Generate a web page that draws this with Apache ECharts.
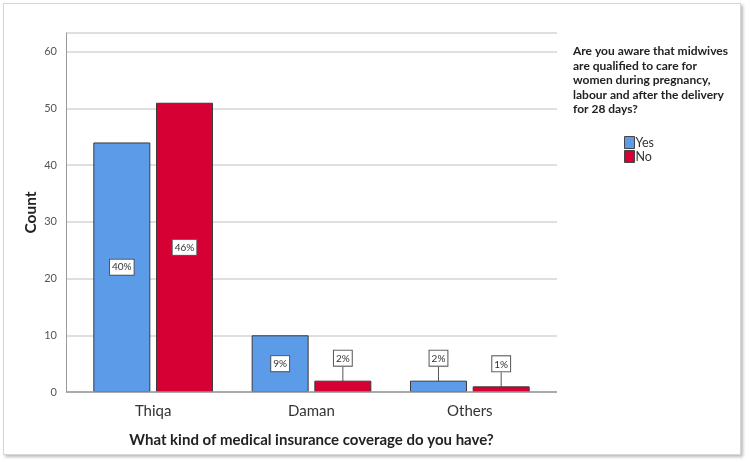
<!DOCTYPE html>
<html>
<head>
<meta charset="utf-8">
<script src="https://cdn.jsdelivr.net/npm/echarts@6/dist/echarts.min.js"></script>
<style>
  html, body { margin: 0; padding: 0; background: #fff; }
  #frame {
    position: absolute; left: 3px; top: 3px; width: 736px; height: 450px;
    border: 1px solid #d6d6d6; box-shadow: 2px 2px 3px #bbb; background: #fff;
  }
  #chart { position: absolute; left: 0; top: 0; width: 750px; height: 462px; }
</style>
</head>
<body>
<div id="frame"></div>
<div id="chart"></div>
<script>
// insurance categories and counts per answer
const categories = ['Thiqa', 'Daman', 'Others']
const yesCounts = [44, 10, 2]
const noCounts = [51, 2, 1]
const yesPercent = ['40%', '9%', '2%']
const noPercent = ['46%', '2%', '1%']
const yTicks = [0, 10, 20, 30, 40, 50, 60]

const legendTitle = 'Are you aware that midwives\nare qualified to care for\nwomen during pregnancy,\nlabour and after the delivery\nfor 28 days?'
const font = 'Lato, "Open Sans", sans-serif'

const chart = echarts.init(document.getElementById('chart'))

const boxLabel = {
  show: true,
  fontFamily: font,
  fontSize: 10,
  color: '#333',
  backgroundColor: '#fff',
  borderColor: '#555',
  borderWidth: 1,
  padding: [3, 2, 2, 2]
}

// small bars get their label lifted above with a leader line
function makeData(values, pcts) {
  return values.map((v, i) => {
    const small = v < 5
    return {
      value: v,
      label: Object.assign({}, boxLabel, {
        formatter: pcts[i],
        position: small ? 'top' : 'inside',
        distance: 0
      }),
      labelLine: { show: small, lineStyle: { color: '#555', width: 1 } }
    }
  })
}

function lift(values) {
  return function (params) {
    return values[params.dataIndex] < 5 ? { dy: -15 } : {}
  }
}

chart.setOption({
  animation: false,
  title: {
    text: legendTitle,
    left: 568,
    top: 39,
    textStyle: {
      fontFamily: font, fontSize: 12, fontWeight: 'bold', color: '#222', lineHeight: 14.5
    }
  },
  legend: {
    orient: 'vertical',
    left: 619,
    top: 131,
    itemWidth: 10,
    itemHeight: 12,
    itemGap: 1,
    icon: 'rect',
    data: ['Yes', 'No'],
    textStyle: { fontFamily: font, fontSize: 12.5, color: '#333', padding: [0, 0, 0, -4] },
    itemStyle: { borderColor: '#444', borderWidth: 1 }
  },
  grid: [
    { left: 74, width: 475, top: 33, bottom: 70 },
    { left: 66, width: 491, top: 33, bottom: 70 }
  ],
  xAxis: [
    {
      type: 'category',
      gridIndex: 0,
      data: categories,
      axisLine: { show: false },
      axisTick: { show: false },
      axisLabel: { fontFamily: font, fontSize: 15, color: '#333', margin: 12 },
      name: 'What kind of medical insurance coverage do you have?',
      nameLocation: 'middle',
      nameGap: 41,
      nameTextStyle: { fontFamily: font, fontSize: 15, fontWeight: 'bold', color: '#222' }
    },
    {
      type: 'value',
      gridIndex: 1,
      show: true,
      axisLine: { show: false },
      axisTick: { show: false },
      axisLabel: { show: false },
      splitLine: { show: false }
    }
  ],
  yAxis: [
    {
      type: 'value',
      gridIndex: 0,
      min: 0,
      max: 63.3,
      show: false
    },
    {
      type: 'value',
      gridIndex: 1,
      min: 0,
      max: 63.3,
      interval: 10,
      axisLine: { show: true, lineStyle: { color: '#999', width: 1 } },
      axisTick: { show: false },
      axisLabel: {
        fontFamily: font, fontSize: 11, color: '#555', margin: 9,
        showMaxLabel: false,
        formatter: v => (yTicks.indexOf(v) >= 0 ? String(v) : '')
      },
      splitLine: { show: true, lineStyle: { color: '#d4d4d4', width: 1.5 } },
      name: 'Count',
      nameLocation: 'middle',
      nameGap: 27,
      nameMoveOverlap: false,
      nameRotate: 90,
      nameTextStyle: { fontFamily: font, fontSize: 15.5, fontWeight: 'bold', color: '#222' }
    }
  ],
  series: [
    {
      name: 'Yes',
      type: 'bar',
      xAxisIndex: 0,
      yAxisIndex: 0,
      barWidth: 57,
      barGap: '10%',
      itemStyle: { color: '#5b9be8', borderColor: '#3a3a3a', borderWidth: 1 },
      labelLayout: lift(yesCounts),
      data: makeData(yesCounts, yesPercent),
      z: 3
    },
    {
      name: 'No',
      type: 'bar',
      xAxisIndex: 0,
      yAxisIndex: 0,
      barWidth: 57,
      barGap: '10%',
      itemStyle: { color: '#d70035', borderColor: '#3a3a3a', borderWidth: 1 },
      labelLayout: lift(noCounts),
      data: makeData(noCounts, noPercent),
      z: 3
    },
    {
      // baseline along zero of the wide grid
      type: 'line',
      xAxisIndex: 1,
      yAxisIndex: 1,
      data: [],
      markLine: {
        silent: true,
        symbol: 'none',
        label: { show: false },
        lineStyle: { color: '#999', width: 1.5, type: 'solid' },
        data: [{ yAxis: 0 }]
      }
    }
  ]
})
</script>
</body>
</html>
